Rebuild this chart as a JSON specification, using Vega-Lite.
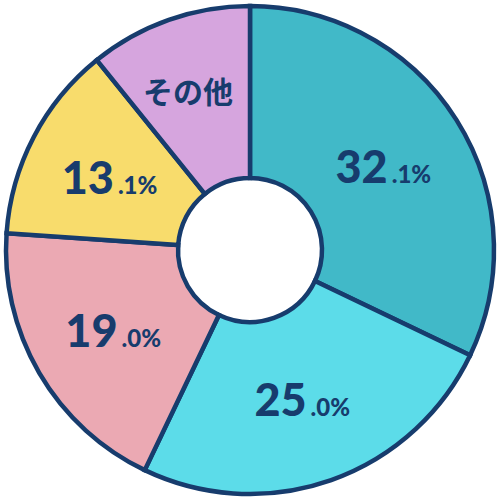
{
  "$schema": "https://vega.github.io/schema/vega-lite/v6.json",
  "autosize": {"type": "fit", "contains": "padding"},
  "width": 500,
  "height": 500,
  "padding": 0,
  "background": "white",
  "view": {"stroke": null},
  "data": {
    "values": [
      {"name": "A", "value": 32.1, "order": 1, "big": "32", "small": ".1%"},
      {"name": "B", "value": 25.0, "order": 2, "big": "25", "small": ".0%"},
      {"name": "C", "value": 19.0, "order": 3, "big": "19", "small": ".0%"},
      {"name": "D", "value": 13.1, "order": 4, "big": "13", "small": ".1%"},
      {"name": "その他", "value": 10.8, "order": 5, "big": "", "small": ""}
    ]
  },
  "encoding": {
    "theta": {"field": "value", "type": "quantitative", "stack": true},
    "order": {"field": "order", "type": "quantitative"}
  },
  "layer": [
    {
      "mark": {"type": "arc", "outerRadius": 244, "innerRadius": 72, "stroke": "#173C6D", "strokeWidth": 4.5},
      "encoding": {
        "color": {
          "field": "name",
          "type": "nominal",
          "scale": {"domain": ["A", "B", "C", "D", "その他"], "range": ["#41B9C8", "#5CDCE9", "#EBA9B3", "#F8DC6C", "#D6A5DE"]},
          "legend": null
        }
      }
    },
    {
      "mark": {"type": "text", "radius": 158, "font": "Lato", "fontWeight": 900, "fontSize": 45, "fill": "#173C6D", "align": "right", "baseline": "alphabetic", "dx": 4, "dy": 17},
      "encoding": {"text": {"field": "big", "type": "nominal"}}
    },
    {
      "mark": {"type": "text", "radius": 158, "font": "Lato", "fontWeight": 900, "fontSize": 24, "fill": "#173C6D", "align": "left", "baseline": "alphabetic", "dx": 8, "dy": 17},
      "encoding": {"text": {"field": "small", "type": "nominal"}}
    },
    {
      "mark": {"type": "text", "radius": 165, "font": "Noto Sans CJK JP", "fontWeight": "bold", "fontSize": 30, "fill": "#173C6D", "align": "center", "baseline": "middle", "dx": -7},
      "encoding": {
        "text": {"condition": {"test": "datum.name === 'その他'", "field": "name"}, "value": ""}
      }
    }
  ]
}
